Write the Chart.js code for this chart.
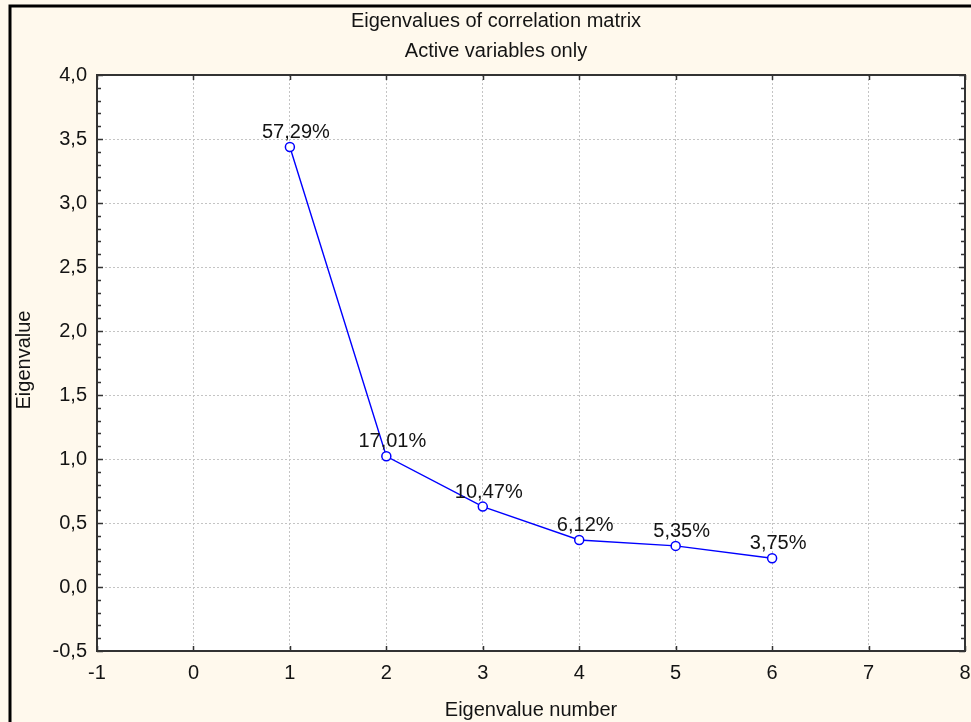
<!DOCTYPE html>
<html>
<head>
<meta charset="utf-8">
<script src="https://cdn.jsdelivr.net/npm/chart.js@4.4.1/dist/chart.umd.min.js"></script>
<style>
  html, body { margin: 0; padding: 0; background: #fff9ed; }
  #wrap { width: 971px; height: 722px; position: relative; }
</style>
</head>
<body>
<div id="wrap"><canvas id="chart" width="971" height="722"></canvas></div>
<script>
// Scree plot of the eigenvalues (active variables only)
const eigenNumbers = [1, 2, 3, 4, 5, 6];
const eigenValues = [3.437, 1.021, 0.628, 0.367, 0.321, 0.225];
const pctLabels = ['57,29%', '17,01%', '10,47%', '6,12%', '5,35%', '3,75%'];
const xTicks = [-1, 0, 1, 2, 3, 4, 5, 6, 7, 8];
const yTicks = [-0.5, 0, 0.5, 1, 1.5, 2, 2.5, 3, 3.5, 4];
const titleLines = ['Eigenvalues of correlation matrix', 'Active variables only'];
const xTitle = 'Eigenvalue number';
const yTitle = 'Eigenvalue';

const FONT = '"Liberation Sans", Arial, sans-serif';
const TEXT = '#141414';

const framePlugin = {
  id: 'frame',
  beforeDraw(chart) {
    const { ctx, chartArea: a } = chart;
    ctx.save();
    ctx.fillStyle = '#fff9ed';
    ctx.fillRect(0, 0, chart.width, chart.height);
    ctx.fillStyle = '#ffffff';
    ctx.fillRect(a.left, a.top, a.right - a.left, a.bottom - a.top);
    // outer black border
    ctx.strokeStyle = '#000';
    ctx.lineWidth = 3;
    ctx.beginPath();
    ctx.moveTo(10, chart.height + 5);
    ctx.lineTo(10, 6);
    ctx.lineTo(chart.width + 5, 6);
    ctx.stroke();
    ctx.restore();
  },
  afterDraw(chart) {
    const { ctx, chartArea: a } = chart;
    const xs = chart.scales.x, ys = chart.scales.y;
    ctx.save();
    ctx.strokeStyle = '#333';
    ctx.lineWidth = 2;
    ctx.strokeRect(a.left, a.top, a.right - a.left, a.bottom - a.top);
    ctx.lineWidth = 1.5;
    ctx.beginPath();
    // y ticks: major every 0.5, minor every 0.1, pointing inward on both sides
    for (let i = -5; i <= 40; i++) {
      const y = Math.round(ys.getPixelForValue(i / 10)) + 0.5;
      const len = (i % 5 === 0) ? 6 : 4;
      ctx.moveTo(a.left, y); ctx.lineTo(a.left + len, y);
      ctx.moveTo(a.right, y); ctx.lineTo(a.right - len, y);
    }
    // x ticks at each integer, pointing inward on top and bottom
    xTicks.forEach(v => {
      const x = Math.round(xs.getPixelForValue(v)) + 0.5;
      ctx.moveTo(x, a.bottom); ctx.lineTo(x, a.bottom - 5);
      ctx.moveTo(x, a.top); ctx.lineTo(x, a.top + 5);
    });
    ctx.stroke();

    // titles
    ctx.fillStyle = TEXT;
    ctx.font = '20px ' + FONT;
    ctx.textAlign = 'center';
    ctx.textBaseline = 'alphabetic';
    ctx.fillText(titleLines[0], 496, 27);
    ctx.fillText(titleLines[1], 496, 57);
    ctx.fillText(xTitle, (a.left + a.right) / 2, 716);
    ctx.save();
    ctx.translate(30, 360);
    ctx.rotate(-Math.PI / 2);
    ctx.fillText(yTitle, 0, 0);
    ctx.restore();
    ctx.restore();
  },
  afterDatasetsDraw(chart) {
    const { ctx } = chart;
    const meta = chart.getDatasetMeta(0);
    ctx.save();
    ctx.fillStyle = TEXT;
    ctx.font = '20px ' + FONT;
    ctx.textAlign = 'center';
    ctx.textBaseline = 'alphabetic';
    meta.data.forEach((pt, i) => {
      ctx.fillText(pctLabels[i], pt.x + 6, pt.y - 9);
    });
    ctx.restore();
  }
};

new Chart(document.getElementById('chart'), {
  type: 'line',
  data: {
    datasets: [{
      data: eigenNumbers.map((n, i) => ({ x: n, y: eigenValues[i] })),
      borderColor: '#0000ff',
      borderWidth: 1.4,
      pointRadius: 4.5,
      pointBorderWidth: 1.5,
      pointBackgroundColor: '#ffffff',
      pointBorderColor: '#0000ff',
      tension: 0,
      clip: false
    }]
  },
  options: {
    responsive: false,
    animation: false,
    events: [],
    layout: { padding: { top: 75, right: 3, left: 0, bottom: 0 } },
    plugins: { legend: { display: false }, title: { display: false }, tooltip: { enabled: false } },
    scales: {
      x: {
        type: 'linear',
        min: -1, max: 8,
        afterBuildTicks: s => { s.ticks = xTicks.map(v => ({ value: v })); },
        afterFit: s => { s.height = 71; s.paddingLeft = 0; s.paddingRight = 0; },
        grid: { color: '#c4c4c4', lineWidth: 1, drawTicks: false },
        border: { display: false, dash: [2, 2] },
        ticks: {
          padding: 10,
          maxRotation: 0,
          autoSkip: false,
          color: TEXT,
          font: { family: FONT, size: 20 },
          callback: v => String(v)
        }
      },
      y: {
        type: 'linear',
        min: -0.5, max: 4,
        afterBuildTicks: s => { s.ticks = yTicks.map(v => ({ value: v })); },
        afterFit: s => { s.width = 97; s.paddingTop = 0; s.paddingBottom = 0; },
        grid: { color: '#c4c4c4', lineWidth: 1, drawTicks: false },
        border: { display: false, dash: [2, 2] },
        ticks: {
          padding: 10,
          autoSkip: false,
          color: TEXT,
          font: { family: FONT, size: 20 },
          callback: v => v.toFixed(1).replace('.', ',')
        }
      }
    }
  },
  plugins: [framePlugin]
});
</script>
</body>
</html>
